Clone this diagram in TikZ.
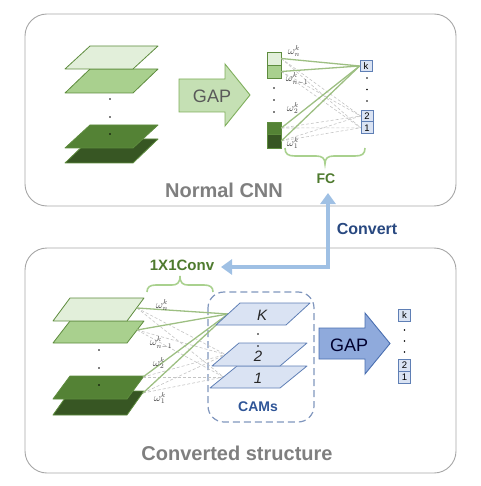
\documentclass[tikz,border=0pt]{standalone}
\usepackage{fontspec}
\setmainfont{Liberation Sans}
\usetikzlibrary{arrows.meta}
\definecolor{g1}{HTML}{E2EFDA}
\definecolor{g2}{HTML}{A9D08E}
\definecolor{g3}{HTML}{548235}
\definecolor{g4}{HTML}{375623}
\definecolor{gline}{HTML}{5E8C3E}
\definecolor{gconn}{HTML}{9DBF82}
\definecolor{bracec}{HTML}{A9D18E}
\definecolor{panelc}{HTML}{A6A6A6}
\definecolor{camfill}{HTML}{DAE3F3}
\definecolor{camline}{HTML}{5F7FB5}
\definecolor{dashbox}{HTML}{8096BD}
\definecolor{convc}{HTML}{9FC0E4}
\definecolor{darkblue}{HTML}{2F5597}
\definecolor{fcgreen}{HTML}{4E7A2E}
\definecolor{graytxt}{HTML}{7F7F7F}
\definecolor{gapgreen}{HTML}{C5E0B4}
\definecolor{gapgreenline}{HTML}{7FAE5C}
\definecolor{gapblue}{HTML}{8FAADC}
\definecolor{gapblueline}{HTML}{4A6FB0}
\definecolor{dashgray}{HTML}{C4C4C4}
\newcommand{\myplane}[6]{\draw[#6] (#1,#2) -- ++(#3,0) -- ++(#4,-#5) -- ++(-#3,0) -- cycle;}
\tikzset{
  panelbox/.style={draw=panelc, line width=0.9pt, rounded corners=22pt},
  plane/.style={draw=gline, line width=0.8pt, line join=round},
  camplane/.style={draw=camline, fill=camfill, line width=0.8pt, line join=round},
  solidconn/.style={draw=gconn, line width=1.3pt},
  dashconn/.style={draw=dashgray, line width=0.6pt, dash pattern=on 3pt off 2pt},
  vecbox/.style={draw=gline, line width=0.6pt, minimum width=14pt, inner sep=0pt},
  outbox/.style={draw=camline, fill=camfill, line width=0.8pt, minimum width=12pt, minimum height=11.8pt, inner sep=0pt, font=\fontsize{9.5}{9.5}\selectfont},
  wlabel/.style={font=\fontsize{10.5}{10.5}\selectfont, text=black!75, inner sep=0pt},
  dotmark/.style={fill=black, circle, inner sep=0pt, minimum size=1.6pt},
  titletext/.style={font=\fontsize{20}{20}\selectfont\bfseries, text=graytxt},
  bracestyle/.style={draw=bracec, line width=1.6pt},
  camlabel/.style={font=\fontsize{15}{15}\selectfont\itshape, text=black!85, inner sep=0pt},
}
\begin{document}
\begin{tikzpicture}[x=1pt,y=-1pt]
\useasboundingbox (0,0) rectangle (480,486);
% panels
\draw[panelbox] (25,14) rectangle (456,206);
\draw[panelbox] (25,248) rectangle (456,473);

% ---------- top: feature maps ----------
\myplane{65}{163}{68}{25}{24}{plane, fill=g4}
\myplane{65}{148}{68}{25}{23}{plane, fill=g3}
\myplane{65}{93}{68}{25}{24}{plane, fill=g2}
\myplane{65}{69}{68}{25}{23}{plane, fill=g1}
\node[dotmark] (td1) at (110,99) {};
\node[dotmark] (td2) at (110,117) {};
\node[dotmark] (td3) at (110,134) {};

% top GAP arrow
\draw[draw=gapgreenline, fill=gapgreen, line width=0.9pt, line join=miter]
  (179,79) -- (225,79) -- (225,64) -- (250,95) -- (225,126) -- (225,112) -- (179,112) -- cycle;
\node[font=\fontsize{18}{18}\selectfont, text=black!65] (gap1) at (212,96) {GAP};

% FC vector
\node[vecbox, fill=g1, minimum height=13pt] (f1) at (274,58.5) {};
\node[vecbox, fill=g2, minimum height=13pt] (f2) at (274,71.5) {};
\node[vecbox, fill=g3, minimum height=12pt] (f3) at (274,128) {};
\node[vecbox, fill=g4, minimum height=14pt] (f4) at (274,141) {};
\node[dotmark] (fd1) at (274,88) {};
\node[dotmark] (fd2) at (274,100) {};
\node[dotmark] (fd3) at (274,112) {};

% output boxes top
\node[outbox] (tk) at (366,66) {k};
\node[outbox] (t2) at (367,116) {2};
\node[outbox] (t1) at (367,127.8) {1};
\node[dotmark] (od1) at (367,78) {};
\node[dotmark] (od2) at (367,89.5) {};
\node[dotmark] (od3) at (367,101) {};

% connections top
\foreach \s in {f1,f2,f3,f4}{
  \foreach \t in {t2,t1}{
    \draw[dashconn] (\s.east) -- (\t.west);
  }
}
\foreach \s in {f1,f2,f3,f4}{
  \draw[solidconn] (\s.east) -- (tk.west);
}
\node[wlabel] (wn) at (294,51) {$\omega_n^k$};
\node[wlabel] (wn1) at (297,79) {$\omega_{n-1}^k$};
\node[wlabel] (w2) at (293,108) {$\omega_2^k$};
\node[wlabel] (w1) at (293,143) {$\omega_1^k$};

% FC brace
\draw[bracestyle] (285,148) .. controls (285,154) and (288,156) .. (295,156) -- (316,156)
  .. controls (322,156) and (325,158) .. (325,164)
  .. controls (325,158) and (328,156) .. (334,156) -- (355,156)
  .. controls (362,156) and (365,154) .. (365,148);
\node[font=\fontsize{14}{14}\selectfont\bfseries, text=fcgreen] (fc) at (326,179) {FC};
\node[titletext] (normal) at (224,190) {Normal CNN};

% ---------- convert arrow ----------
\coordinate (cv) at (328,267);
\coordinate (convtop) at (328,193);
\coordinate (convleft) at (221,267);
\draw[draw=convc, line width=4.5pt, line join=miter,
  {Triangle[width=15pt,length=11pt]}-{Triangle[width=15pt,length=11pt]}]
  (convtop) -- (cv) -- (convleft);
\node[font=\fontsize{16}{16}\selectfont\bfseries, text=darkblue!85!black] (convert) at (367,229) {Convert};
\node[font=\fontsize{15}{15}\selectfont\bfseries, text=fcgreen] (conv11) at (182,265) {1X1Conv};
\draw[bracestyle] (147,292) .. controls (147,287) and (150,285) .. (156,285) -- (172,285)
  .. controls (177,285) and (180,283) .. (180,276)
  .. controls (180,283) and (183,285) .. (188,285) -- (204,285)
  .. controls (210,285) and (213,287) .. (213,292);

% ---------- bottom: feature maps ----------
\myplane{53}{415}{74}{17}{24}{plane, fill=g4}
\myplane{53}{399}{74}{17}{23}{plane, fill=g3}
\myplane{53}{343}{74}{17}{22}{plane, fill=g2}
\myplane{53}{321}{74}{17}{23}{plane, fill=g1}
\node[dotmark] (bd1) at (99,350) {};
\node[dotmark] (bd2) at (99,368) {};
\node[dotmark] (bd3) at (99,385) {};
\coordinate (b1r) at (137,308);
\coordinate (b2r) at (137,330);
\coordinate (b3r) at (143,377);
\coordinate (b4r) at (143,393);
\coordinate (kl) at (228,314);
\coordinate (c2l) at (225.5,354.5);
\coordinate (c1l) at (223.5,377);

% CAM dashed box
\draw[draw=dashbox, line width=1.2pt, dash pattern=on 7pt off 4pt, rounded corners=16pt] (208,292) rectangle (314,422);

% connections bottom
\foreach \s in {b1r,b2r,b3r,b4r}{
  \foreach \t in {c2l,c1l}{
    \draw[dashconn] (\s) -- (\t);
  }
}
\foreach \s in {b1r,b2r,b3r,b4r}{
  \draw[solidconn] (\s) -- (kl);
}
\node[wlabel] (bwn) at (162,305) {$\omega_n^k$};
\node[wlabel] (bwn1) at (161,343) {$\omega_{n-1}^k$};
\node[wlabel] (bw2) at (159,363) {$\omega_2^k$};
\node[wlabel] (bw1) at (160,398) {$\omega_1^k$};

% CAM planes
\myplane{210}{388}{70}{27}{22}{camplane}
\myplane{212}{366}{68}{27}{23}{camplane}
\myplane{216}{325}{70}{24}{22}{camplane}
\node[camlabel] (lk) at (262,315) {K};
\node[camlabel] (l2) at (258,356) {2};
\node[camlabel] (l1) at (258,378) {1};
\node[dotmark] (cd1) at (258,334) {};
\node[dotmark] (cd2) at (258,346) {};
\node[font=\fontsize{14}{14}\selectfont\bfseries, text=darkblue] (cams) at (258,407) {CAMs};

% bottom GAP arrow
\draw[draw=gapblueline, fill=gapblue, line width=0.9pt, line join=miter]
  (319,328) -- (365,328) -- (365,313) -- (390,343.5) -- (365,374) -- (365,359) -- (319,359) -- cycle;
\node[font=\fontsize{18}{18}\selectfont, text=black!70!blue!60!black] (gap2) at (349,345) {GAP};

% output boxes bottom
\node[outbox] (bk) at (404.5,315.5) {k};
\node[outbox] (b2) at (404.5,365) {2};
\node[outbox] (b1) at (404.5,377.5) {1};
\node[dotmark] (obd1) at (404.5,330) {};
\node[dotmark] (obd2) at (404.5,341) {};
\node[dotmark] (obd3) at (404.5,352) {};

\node[titletext] (converted) at (237,453) {Converted structure};
\end{tikzpicture}
\end{document}
